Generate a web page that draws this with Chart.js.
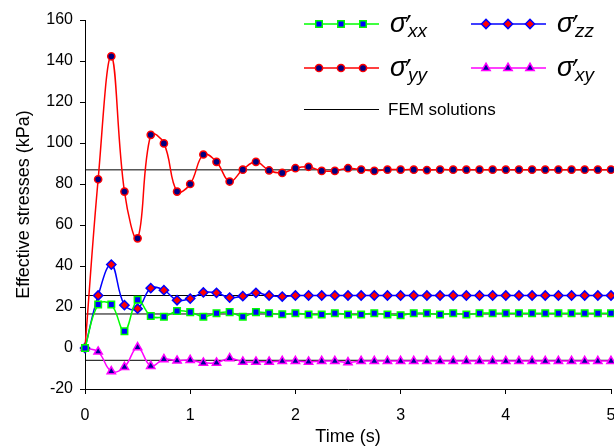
<!DOCTYPE html>
<html>
<head>
<meta charset="utf-8">
<script src="https://cdn.jsdelivr.net/npm/chart.js@4.4.1/dist/chart.umd.min.js"></script>
<style>
  body { margin: 0; background: #fff; }
  #wrap { position: relative; width: 614px; height: 446px; }
</style>
</head>
<body>
<div id="wrap"><canvas id="stressChart"></canvas></div>
<script>
// time steps (s)
var time = [0, 0.125, 0.25, 0.375, 0.5, 0.625, 0.75, 0.875, 1, 1.125, 1.25, 1.375, 1.5, 1.625, 1.75, 1.875,
  2, 2.125, 2.25, 2.375, 2.5, 2.625, 2.75, 2.875, 3, 3.125, 3.25, 3.375, 3.5, 3.625, 3.75, 3.875,
  4, 4.125, 4.25, 4.375, 4.5, 4.625, 4.75, 4.875, 5];

// effective stresses (kPa)
var sigmaXX = [0, 21.2, 21.2, 8.2, 23.5, 15.6, 15.2, 18.1, 17.5, 15.3, 17.0, 17.5, 15.3, 17.5, 17.0, 16.5,
  17.0, 16.3, 16.3, 17.0, 16.3, 16.3, 17.0, 16.3, 16.0, 17.0, 17.0, 16.3, 17.0, 16.3, 17.0, 17.0,
  17.0, 17.0, 17.0, 17.0, 17.0, 17.0, 17.0, 17.0, 17.0];
var sigmaYY = [0, 82.3, 142.3, 76.3, 53.5, 104.0, 99.8, 76.3, 80.0, 94.4, 90.8, 81.2, 87.0, 90.8, 86.6, 85.4,
  87.7, 88.4, 86.4, 86.4, 87.7, 87.0, 86.4, 87.0, 87.0, 87.0, 86.8, 87.0, 87.0, 87.0, 87.0, 87.0,
  87.0, 87.0, 87.0, 87.0, 87.0, 87.0, 87.0, 87.0, 87.0];
var sigmaZZ = [0, 25.6, 40.7, 20.9, 19.2, 29.2, 28.2, 23.3, 24.1, 27.1, 26.9, 24.6, 25.3, 26.9, 25.6, 25.1,
  25.6, 25.6, 25.6, 25.6, 25.6, 25.6, 25.6, 25.6, 25.6, 25.6, 25.6, 25.6, 25.6, 25.6, 25.6, 25.6,
  25.6, 25.6, 25.6, 25.6, 25.6, 25.6, 25.6, 25.6, 25.6];
var sigmaXY = [0, -1.8, -11.4, -9.3, 0.3, -8.8, -5.5, -6.2, -5.9, -7.2, -7.2, -5.0, -6.7, -6.7, -6.7, -6.4,
  -6.4, -6.7, -6.4, -6.4, -7.0, -6.4, -6.4, -6.4, -6.4, -6.4, -6.4, -6.4, -6.4, -6.4, -6.4, -6.4,
  -6.4, -6.4, -6.4, -6.4, -6.4, -6.4, -6.4, -6.4, -6.4];

// FEM reference values (yy, zz, xx, xy)
var femValues = [86.9, 25.6, 16.6, -6.0];

var yTicks = [-20, 0, 20, 40, 60, 80, 100, 120, 140, 160];
var xTicks = [0, 1, 2, 3, 4, 5];

var FONT = '"Liberation Sans", Arial, sans-serif';

function pairs(vals) {
  return time.map(function (t, i) { return { x: t, y: vals[i] }; });
}

function series(vals, line, fill, shape, r) {
  return {
    data: pairs(vals),
    borderColor: line,
    borderWidth: 1.5,
    tension: 0.4,
    pointStyle: shape,
    pointRadius: r,
    pointBackgroundColor: fill,
    pointBorderColor: line,
    pointBorderWidth: 1.5,
    clip: false,
    order: 1
  };
}

var datasets = [
  series(sigmaXX, '#00ff00', '#0000ff', 'rect', 4.6),
  series(sigmaYY, '#ff0000', '#000080', 'circle', 3.6),
  series(sigmaZZ, '#0000ff', '#ff0000', 'rectRot', 4.6),
  series(sigmaXY, '#ff00ff', '#000099', 'triangle', 4.8)
];
femValues.forEach(function (v) {
  datasets.push({
    data: [{ x: time[0], y: v }, { x: time[time.length - 1], y: v }],
    borderColor: '#000',
    borderWidth: 1,
    pointRadius: 0,
    order: 5
  });
});

function marker(ctx, shape, x, y, r, fill, stroke) {
  ctx.save();
  ctx.fillStyle = fill;
  ctx.strokeStyle = stroke;
  ctx.lineWidth = 1.5;
  ctx.beginPath();
  if (shape === 'rect') {
    var s = r * Math.SQRT1_2;
    ctx.rect(x - s, y - s, 2 * s, 2 * s);
  } else if (shape === 'circle') {
    ctx.arc(x, y, r, 0, Math.PI * 2);
  } else if (shape === 'rectRot') {
    ctx.moveTo(x - r, y); ctx.lineTo(x, y - r); ctx.lineTo(x + r, y); ctx.lineTo(x, y + r);
    ctx.closePath();
  } else {
    for (var k = 0; k < 3; k++) {
      var a = k * 2 * Math.PI / 3;
      ctx[k ? 'lineTo' : 'moveTo'](x + Math.sin(a) * r, y - Math.cos(a) * r);
    }
    ctx.closePath();
  }
  ctx.fill();
  ctx.stroke();
  ctx.restore();
}

// prime mark: an acute accent stretched into the box (left, top, w, h)
function prime(ctx, left, top, w, h) {
  ctx.save();
  ctx.font = 'italic 23px ' + FONT;
  ctx.textAlign = 'left';
  ctx.textBaseline = 'alphabetic';
  var m = ctx.measureText('´');
  var iw = m.actualBoundingBoxRight + m.actualBoundingBoxLeft;
  var ih = m.actualBoundingBoxAscent + m.actualBoundingBoxDescent;
  ctx.translate(left, top);
  ctx.scale(w / iw, h / ih);
  ctx.fillText('´', m.actualBoundingBoxLeft, m.actualBoundingBoxAscent);
  ctx.restore();
}

function sigmaLabel(ctx, x, y, sub) {
  ctx.fillStyle = '#000';
  ctx.textAlign = 'left';
  ctx.textBaseline = 'alphabetic';
  ctx.font = 'italic 27px ' + FONT;
  ctx.fillText('σ', x, y + 8);
  prime(ctx, x + 15, y - 12, 6.5, 8.5);
  ctx.fillStyle = '#000';
  ctx.font = 'italic 19px ' + FONT;
  ctx.fillText(sub, x + 18, y + 12.5);
}

var legendPlugin = {
  id: 'sigmaLegend',
  afterDraw: function (chart) {
    var ctx = chart.ctx;
    var items = [
      { x: 304, y: 24, ds: 0, sub: 'xx' },
      { x: 471, y: 24, ds: 2, sub: 'zz' },
      { x: 304, y: 68, ds: 1, sub: 'yy' },
      { x: 471, y: 68, ds: 3, sub: 'xy' }
    ];
    items.forEach(function (it) {
      var d = chart.data.datasets[it.ds];
      ctx.save();
      ctx.strokeStyle = d.borderColor;
      ctx.lineWidth = 1.5;
      ctx.beginPath();
      ctx.moveTo(it.x, it.y);
      ctx.lineTo(it.x + 75, it.y);
      ctx.stroke();
      ctx.restore();
      [15, 37, 59].forEach(function (dx) {
        marker(ctx, d.pointStyle, it.x + dx, it.y, d.pointRadius, d.pointBackgroundColor, d.pointBorderColor);
      });
      sigmaLabel(ctx, it.x + 86, it.y, it.sub);
    });
    ctx.save();
    ctx.strokeStyle = '#000';
    ctx.lineWidth = 1;
    ctx.beginPath();
    ctx.moveTo(304, 109.5);
    ctx.lineTo(379, 109.5);
    ctx.stroke();
    ctx.fillStyle = '#000';
    ctx.font = '17px ' + FONT;
    ctx.textBaseline = 'alphabetic';
    ctx.fillText('FEM solutions', 388, 115);
    ctx.restore();
  }
};

new Chart(document.getElementById('stressChart').getContext('2d'), {
  type: 'line',
  data: { datasets: datasets },
  plugins: [legendPlugin],
  options: {
    responsive: true,
    maintainAspectRatio: false,
    animation: false,
    layout: { autoPadding: false, padding: { top: 20, right: 3, left: 0, bottom: 0 } },
    plugins: { legend: { display: false }, tooltip: { enabled: false } },
    scales: {
      x: {
        type: 'linear',
        min: xTicks[0],
        max: xTicks[xTicks.length - 1],
        afterBuildTicks: function (s) { s.ticks = xTicks.map(function (v) { return { value: v }; }); },
        afterFit: function (s) { s.height = 57; s.paddingLeft = 0; s.paddingRight = 0; },
        border: { color: '#000', width: 1 },
        grid: { drawOnChartArea: false, color: '#000', tickLength: 5 },
        ticks: { color: '#000', padding: 12, maxRotation: 0, font: { family: FONT, size: 16 } },
        title: { display: true, text: 'Time (s)', color: '#000', padding: { top: 0, bottom: 0 },
          font: { family: FONT, size: 18, lineHeight: 1 } }
      },
      y: {
        min: yTicks[0],
        max: yTicks[yTicks.length - 1],
        afterBuildTicks: function (s) { s.ticks = yTicks.map(function (v) { return { value: v }; }); },
        afterFit: function (s) { s.width = 85; s.paddingTop = 0; s.paddingBottom = 0; },
        border: { color: '#000', width: 1 },
        grid: { drawOnChartArea: false, color: '#000', tickLength: 5 },
        ticks: { color: '#000', padding: 7, font: { family: FONT, size: 16 } },
        title: { display: true, text: 'Effective stresses (kPa)', color: '#000', padding: { top: 15, bottom: 0 },
          font: { family: FONT, size: 18, lineHeight: 1 } }
      }
    }
  }
});
</script>
</body>
</html>
